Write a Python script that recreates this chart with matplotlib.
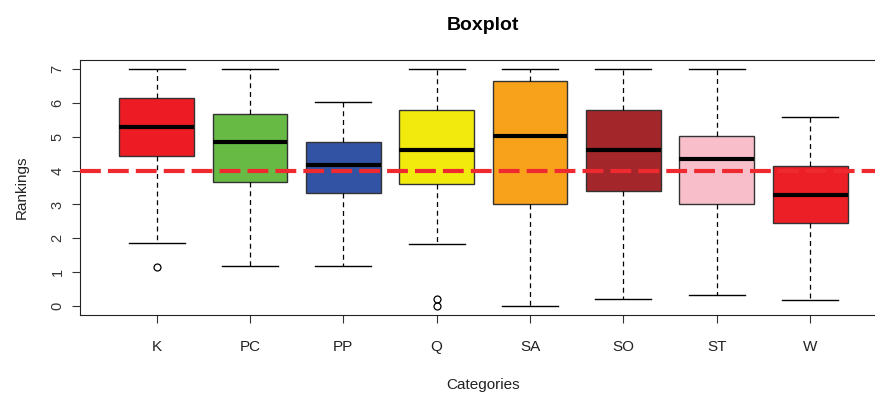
import matplotlib.pyplot as plt

plt.rcParams['font.family'] = ['Liberation Sans', 'DejaVu Sans']

categories = ['K', 'PC', 'PP', 'Q', 'SA', 'SO', 'ST', 'W']
whislo = [1.87, 1.18, 1.18, 1.82, 0.0, 0.20, 0.34, 0.17]
q1 = [4.44, 3.66, 3.34, 3.60, 3.01, 3.40, 3.01, 2.45]
med = [5.29, 4.84, 4.18, 4.61, 5.02, 4.61, 4.33, 3.28]
q3 = [6.15, 5.68, 4.84, 5.80, 6.66, 5.80, 5.02, 4.15]
whishi = [7.0, 7.0, 6.02, 7.0, 7.0, 7.0, 7.0, 5.59]
fliers = [[1.15], [], [], [0.2, 0.0], [], [], [], []]
colors = ['#ED1C24', '#67BB45', '#3253A3', '#F2EA0D', '#F8A21C', '#A3262B', '#F8BFCB', '#ED1F26']
ref_line = 4

stats = []
for i in range(len(categories)):
    stats.append(dict(label=categories[i], whislo=whislo[i], q1=q1[i], med=med[i],
                      q3=q3[i], whishi=whishi[i], fliers=fliers[i]))

fig = plt.figure(figsize=(8.75, 3.95), dpi=100)
# right edge of the plot region runs off the image, as in the original
ax = fig.add_axes([0.0914, 0.2013, 0.922, 0.6477])

bp = ax.bxp(stats, widths=0.8, patch_artist=True, showfliers=True,
            boxprops=dict(edgecolor='#333333', linewidth=1),
            medianprops=dict(color='black', linewidth=3, solid_capstyle='butt'),
            whiskerprops=dict(color='black', linestyle=(0, (4, 3)), linewidth=0.9),
            capprops=dict(color='black', linewidth=1),
            flierprops=dict(marker='o', markerfacecolor='none', markeredgecolor='black',
                            markersize=5, markeredgewidth=0.9))
for patch, c in zip(bp['boxes'], colors):
    patch.set_facecolor(c)
for cap in bp['caps']:
    x0, x1 = cap.get_xdata()
    xm = (x0 + x1) / 2
    cap.set_xdata([xm - 0.3, xm + 0.3])

ax.axhline(ref_line, color='#EE2A30', linestyle=(0, (5, 1.7)), linewidth=3, zorder=5)

ax.set_xlim(0.18, 8.82)
ax.set_ylim(-0.28, 7.28)
ax.set_yticks(range(0, 8))
ax.set_yticklabels([str(v) for v in range(0, 8)], rotation=90, va='center', fontsize=10.5, color='#333333')
ax.set_xticks(range(1, len(categories) + 1))
ax.set_xticklabels(categories, fontsize=11, color='#222222')
ax.tick_params(axis='y', length=6, pad=5, color='#333333')
ax.tick_params(axis='x', length=6, pad=12, color='#333333')
for s in ax.spines.values():
    s.set_color('#222222')

ax.set_title('Boxplot', fontsize=14, fontweight='bold', pad=21)
ax.set_xlabel('Categories', fontsize=11, color='#222222', labelpad=17)
ax.set_ylabel('Rankings', fontsize=11, color='#222222', labelpad=16)

fig.savefig('out.png', dpi=100)
